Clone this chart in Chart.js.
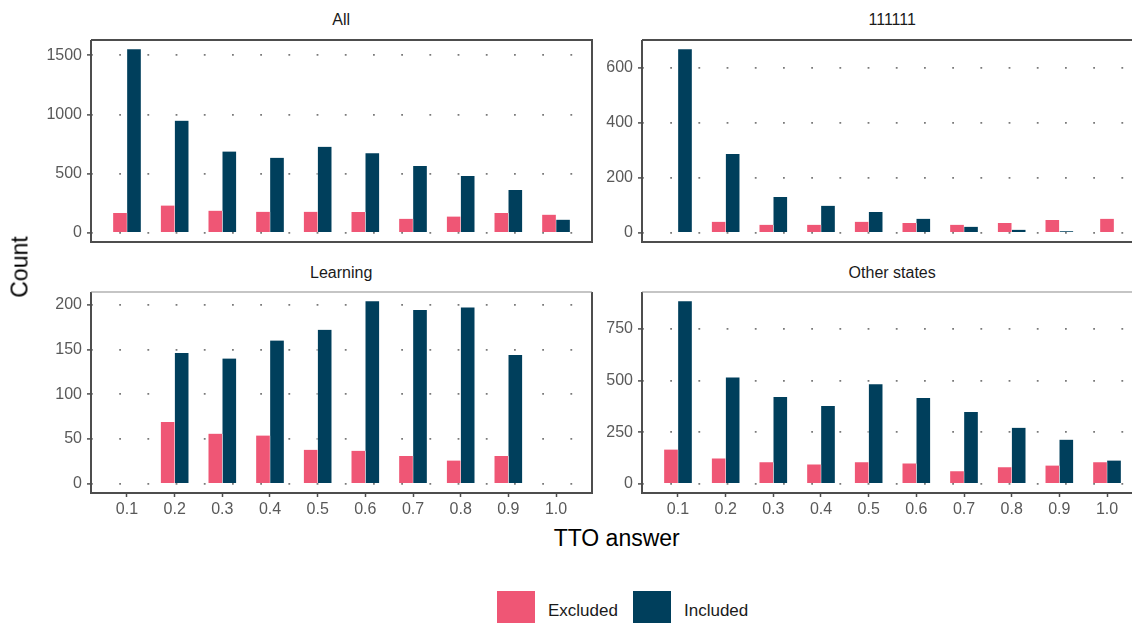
<!DOCTYPE html>
<html>
<head>
<meta charset="utf-8">
<script src="https://cdn.jsdelivr.net/npm/chart.js@4/dist/chart.umd.min.js"></script>
<style>
  body { margin: 0; width: 1132px; height: 623px; overflow: hidden; background: #fff; position: relative;
         font-family: "Liberation Sans", Arial, sans-serif; }
  canvas { position: absolute; }
  .txt { position: absolute; white-space: nowrap; transform: translate(-50%, -50%); }
  .strip { font-size: 16px; color: #1a1a1a; }
  .axtitle { font-size: 23px; color: #000; }
  .key { position: absolute; width: 38px; height: 38px; }
  .keytxt { position: absolute; font-size: 17px; color: #1a1a1a; transform: translateY(-50%); }
</style>
</head>
<body>

<canvas id="panelAll" width="563" height="206" style="left:30.7px; top:38px;"></canvas>
<canvas id="panel111111" width="563" height="206" style="left:581.7px; top:38px;"></canvas>
<canvas id="panelLearning" width="563" height="233" style="left:30.7px; top:290.3px;"></canvas>
<canvas id="panelOther" width="563" height="233" style="left:581.7px; top:290.3px;"></canvas>

<div class="txt strip" style="left:341.2px; top:20px;">All</div>
<div class="txt strip" style="left:892.2px; top:20px;">111111</div>
<div class="txt strip" style="left:341.2px; top:273px;">Learning</div>
<div class="txt strip" style="left:892.2px; top:273px;">Other states</div>

<div class="txt axtitle" style="left:20px; top:267px; transform:translate(-50%,-50%) rotate(-90deg);">Count</div>
<div class="txt axtitle" style="left:616.7px; top:538px;">TTO answer</div>

<div class="key" style="left:497px; top:591px; background:#EF5675;"></div>
<div class="keytxt" style="left:548px; top:611px;">Excluded</div>
<div class="key" style="left:633px; top:591px; background:#003F5C;"></div>
<div class="keytxt" style="left:684px; top:611px;">Included</div>

<script>
// TTO answer categories (x axis)
var answerLabels = ["0.1", "0.2", "0.3", "0.4", "0.5", "0.6", "0.7", "0.8", "0.9", "1.0"];

// Panel "All"
var allExcluded = [168, 230, 187, 177, 178, 175, 119, 138, 168, 153];
var allIncluded = [1551, 947, 686, 633, 727, 672, 565, 480, 362, 111];
var allTicks = [0, 500, 1000, 1500];

// Panel "111111"
var fullExcluded = [3, 40, 29, 29, 40, 36, 29, 36, 47, 51];
var fullIncluded = [667, 286, 130, 98, 76, 51, 22, 11, 6, null];
var fullTicks = [0, 200, 400, 600];

// Panel "Learning"
var learningExcluded = [null, 69, 56, 54, 38, 37, 31, 26, 31, null];
var learningIncluded = [null, 146, 140, 160, 172, 204, 194, 197, 144, null];
var learningTicks = [0, 50, 100, 150, 200];

// Panel "Other states"
var otherExcluded = [166, 123, 104, 94, 104, 99, 61, 80, 89, 104];
var otherIncluded = [884, 515, 420, 377, 482, 415, 348, 271, 214, 113];
var otherTicks = [0, 250, 500, 750];

var EXCLUDED_COLOR = "#EF5675";
var INCLUDED_COLOR = "#003F5C";
var FONT = "'Liberation Sans', Arial, sans-serif";

var answerValues = answerLabels.map(function(l) { return parseFloat(l); });

// turn a value list into {x, y} points on the linear x axis
function toPoints(values) {
    return values.map(function(v, i) { return { x: answerValues[i], y: v }; });
}

// draws the panel frame round the chart area
var panelBox = {
    id: "panelBox",
    afterDatasetsDraw: function(chart, args, opts) {
        var a = chart.chartArea;
        var ctx = chart.ctx;
        ctx.save();
        ctx.strokeStyle = "#4d4d4d";
        ctx.lineWidth = 2;
        ctx.beginPath();
        ctx.moveTo(a.left, a.top);
        ctx.lineTo(a.left, a.bottom);
        ctx.lineTo(a.right, a.bottom);
        ctx.lineTo(a.right, a.top);
        if (!opts.thinTop) ctx.lineTo(a.left, a.top);
        ctx.stroke();
        if (opts.thinTop) {
            ctx.strokeStyle = "#8c8c8c";
            ctx.lineWidth = 1.2;
            ctx.beginPath();
            ctx.moveTo(a.left, a.top);
            ctx.lineTo(a.right, a.top);
            ctx.stroke();
        }
        ctx.restore();
    }
};

function makePanel(canvasId, excluded, included, yTicks, showX) {
    var top = Math.max.apply(null, excluded.concat(included).filter(function(v) { return v !== null; }));
    var barStyle = {
        barThickness: 14,
        skipNull: true,
        borderColor: "#ffffff",
        borderWidth: { left: 0.5, right: 0.5, top: 0, bottom: 0 },
        borderSkipped: false
    };
    return new Chart(document.getElementById(canvasId), {
        type: "bar",
        data: {
            datasets: [
                Object.assign({ label: "Excluded", data: toPoints(excluded), backgroundColor: EXCLUDED_COLOR }, barStyle),
                Object.assign({ label: "Included", data: toPoints(included), backgroundColor: INCLUDED_COLOR }, barStyle)
            ]
        },
        options: {
            responsive: false,
            animation: false,
            events: [],
            layout: { padding: { top: 2, right: 2, left: 0, bottom: 0 } },
            plugins: {
                legend: { display: false },
                tooltip: { enabled: false },
                panelBox: { thinTop: showX }
            },
            scales: {
                x: {
                    type: "linear",
                    offset: false,
                    min: 0.0245,
                    max: 1.0755,
                    afterBuildTicks: function(s) {
                        s.ticks = answerValues.map(function(v) { return { value: v }; });
                    },
                    afterFit: function(s) {
                        s.height = showX ? 30 : 2;
                        s.paddingLeft = 0; s.paddingRight = 0;
                    },
                    ticks: {
                        display: showX,
                        autoSkip: false,
                        maxRotation: 0,
                        padding: 3,
                        color: "#595959",
                        font: { family: FONT, size: 16 },
                        callback: function(v) { return Number(v).toFixed(1); }
                    },
                    grid: {
                        offset: false,
                        drawOnChartArea: false,
                        drawTicks: showX,
                        tickLength: 4,
                        tickColor: "#4d4d4d",
                        tickWidth: 1.5
                    },
                    border: { display: false }
                },
                y: {
                    min: -0.05 * top,
                    max: 1.05 * top,
                    afterBuildTicks: function(s) {
                        s.ticks = yTicks.map(function(v) { return { value: v }; });
                    },
                    afterFit: function(s) {
                        s.width = 60;
                        s.paddingTop = 0; s.paddingBottom = 0;
                    },
                    ticks: {
                        padding: 5,
                        color: "#595959",
                        font: { family: FONT, size: 16 },
                        callback: function(v) { return String(v); }
                    },
                    grid: {
                        color: "#7a7a7a",
                        lineWidth: 1.8,
                        tickLength: 4,
                        tickColor: "#4d4d4d",
                        tickWidth: 1.5,
                        tickBorderDash: []
                    },
                    border: { display: false, dash: [1.8, 26.4] }
                }
            }
        },
        plugins: [panelBox]
    });
}

makePanel("panelAll", allExcluded, allIncluded, allTicks, false);
makePanel("panel111111", fullExcluded, fullIncluded, fullTicks, false);
makePanel("panelLearning", learningExcluded, learningIncluded, learningTicks, true);
makePanel("panelOther", otherExcluded, otherIncluded, otherTicks, true);
</script>
</body>
</html>
